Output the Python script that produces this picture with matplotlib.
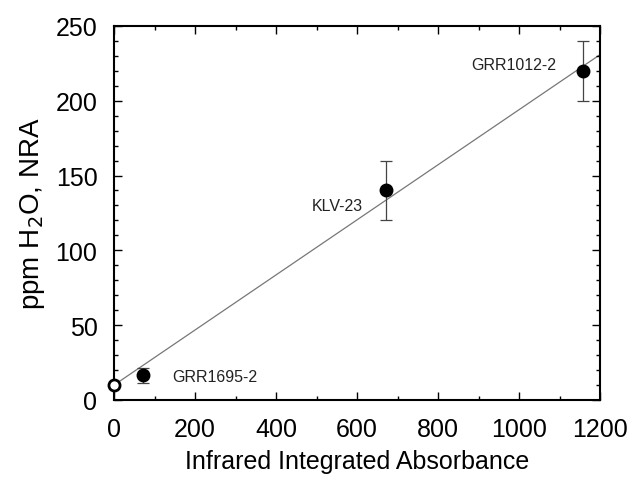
import matplotlib.pyplot as plt
import numpy as np
from matplotlib.ticker import MultipleLocator

plt.rcParams['font.family'] = ['Liberation Sans', 'DejaVu Sans']

# Samples (filled points with error bars)
labels = ['GRR1695-2', 'KLV-23', 'GRR1012-2']
absorbance = np.array([72, 671, 1157])
ppm_h2o = np.array([16.5, 140, 220])
err = np.array([5, 20, 20])

# Blank (open circle)
blank_x = [0]
blank_y = [10]

# Linear fit: intercept, slope
fit_intercept = 10.0
fit_slope = 0.184
fit_x = np.array([0, 1200])

# label positions (data coords)
label_x = [143, 615, 1091]
label_y = [16, 130, 224]
label_ha = ['left', 'right', 'right']

fig = plt.figure(figsize=(6.27, 4.89), dpi=100)
ax = fig.add_axes([0.182, 0.18, 0.775, 0.765])

ax.plot(fit_x, fit_intercept + fit_slope * fit_x, color='#777777', lw=0.9, zorder=1)
ax.errorbar(absorbance, ppm_h2o, yerr=err, fmt='o', color='black', ms=9,
            ecolor='#444444', elinewidth=0.9, capsize=4, capthick=0.9, zorder=3)
ax.plot(blank_x, blank_y, 'o', mfc='white', mec='black', mew=2, ms=8, zorder=4, clip_on=False)

for t, x, y, ha in zip(labels, label_x, label_y, label_ha):
    ax.text(x, y, t, fontsize=11.5, ha=ha, va='center', color='#222222')

ax.set_xlim(0, 1200)
ax.set_ylim(0, 250)
ax.xaxis.set_major_locator(MultipleLocator(200))
ax.xaxis.set_minor_locator(MultipleLocator(100))
ax.yaxis.set_major_locator(MultipleLocator(50))
ax.yaxis.set_minor_locator(MultipleLocator(10))
ax.tick_params(which='both', direction='in', top=True, right=True, labelsize=18, width=1)
ax.tick_params(which='major', length=6)
ax.tick_params(which='minor', length=3)
ax.tick_params(axis='x', pad=12)
ax.tick_params(axis='y', pad=12)
for s in ax.spines.values():
    s.set_linewidth(1.5)

ax.set_xlabel('Infrared Integrated Absorbance', fontsize=18, labelpad=6)
ax.set_ylabel('ppm H$_2$O, NRA', fontsize=20, labelpad=6)

fig.savefig('out.png', dpi=100)
